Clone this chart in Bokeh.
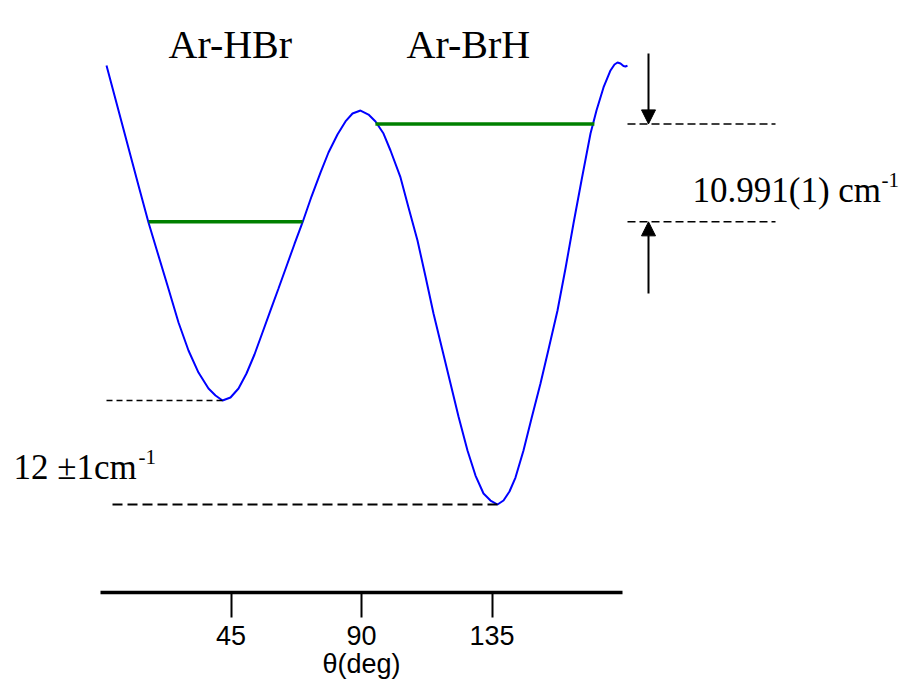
from bokeh.plotting import figure
from bokeh.models import Range1d, Label, Arrow, NormalHead, FixedTicker
from bokeh.embed import file_html
from bokeh.resources import INLINE

# ---- data: angle in degrees, energy in cm-1 ----
theta = [2.07, 4.83, 7.59, 10.34, 13.10, 16.55, 19.66, 23.10, 26.90, 30.34,
         33.79, 37.24, 39.66, 42.07,
         44.83, 47.59, 50.34, 53.10, 55.86, 58.62, 61.38, 64.48, 66.90, 69.66,
         72.76, 75.86, 78.62, 81.72, 84.48, 86.90, 89.66,
         92.41, 94.83, 97.59, 100.0, 103.45, 106.21, 109.31, 112.07, 114.83,
         117.93, 120.69, 123.45, 126.55, 129.31, 132.07, 134.48, 136.90,
         138.97, 141.03, 143.10, 145.86, 148.62, 151.72, 154.48, 157.59,
         160.34, 163.10, 165.86, 168.97, 171.03, 173.45, 175.86, 177.24,
         178.28, 179.31, 180.34, 181.03, 181.72]
energy = [50.63, 47.17, 43.71, 40.25, 36.79, 32.53, 29.07, 25.26, 20.99, 17.76,
          15.22, 13.38, 12.57, 11.99,
          12.34, 13.38, 15.11, 17.30, 19.84, 22.38, 24.91, 27.80, 30.05, 32.53,
          35.52, 38.29, 40.60, 42.68, 44.18, 45.10, 45.44,
          44.98, 44.18, 42.79, 40.83, 37.72, 34.26, 30.45, 26.30, 22.03,
          17.76, 13.96, 10.15, 6.23, 3.34, 1.27, 0.46, 0.00,
          0.46, 1.50, 3.11, 6.23, 9.92, 13.96, 17.88, 22.38,
          27.22, 32.41, 37.37, 42.79, 45.44, 48.10, 50.06, 50.75,
          50.98, 50.87, 50.58, 50.52, 50.63]

# energy levels (green) and their theta extents
level_E = [32.6, 43.9]
level_t0 = [16.6, 94.8]
level_t1 = [69.7, 170.3]

# well minima
min_HBr = 12.0
min_BrH = 0.0
min_HBr_theta = 42.1
min_BrH_theta = 136.9

tick_values = [45, 90, 135]
tick_labels = ["45", "90", "135"]
well_names = ["Ar-HBr", "Ar-BrH"]
split_label = "10.991(1) cm"
depth_label = "12 \u00b11cm"
axis_title = "\u03b8(deg)"

# ---- layout helpers (page pixel -> data) ----
PX_DEG = 2.9
X0 = 100.0
PX_E = 8.67
Y0 = 504.0
W, H = 905, 683
FRAME_BOTTOM = 592


def X(px):
    return (px - X0) / PX_DEG


def Y(py):
    return (Y0 - py) / PX_E


p = figure(width=W, height=H, output_backend="svg", toolbar_location=None,
           x_range=Range1d(X(0), X(W)),
           y_range=Range1d(Y(FRAME_BOTTOM), Y(0)),
           y_axis_location=None,
           min_border_left=0, min_border_right=0, min_border_top=0,
           min_border_bottom=H - FRAME_BOTTOM)
p.outline_line_color = None
p.grid.visible = False
p.background_fill_color = "white"
p.border_fill_color = "white"

ax = p.xaxis[0]
ax.ticker = FixedTicker(ticks=tick_values)
# the axis title sits centred under the 90 tick, as in the reference
overrides = {v: t for v, t in zip(tick_values, tick_labels)}
overrides[90] = tick_labels[1] + "\n" + axis_title
ax.major_label_overrides = overrides
ax.bounds = (0, 180)
ax.axis_line_width = 3.5
ax.axis_line_color = "black"
ax.major_tick_out = 25
ax.major_tick_in = 0
ax.major_tick_line_width = 2
ax.minor_tick_out = 0
ax.minor_tick_in = 0
ax.major_label_standoff = 3
ax.major_label_text_font = "Liberation Sans"
ax.major_label_text_font_size = "27px"
ax.major_label_text_line_height = 0.95
ax.major_label_text_color = "black"

# curve
p.line(theta, energy, line_color="#0000ff", line_width=2)

# energy levels
for e, t0, t1 in zip(level_E, level_t0, level_t1):
    p.line([t0, t1], [e, e], line_color="#008000", line_width=3.5)

# dashed reference lines
p.line([X(106), min_HBr_theta], [min_HBr, min_HBr], line_color="black",
       line_width=1.5, line_dash="6 4")
p.line([X(112), min_BrH_theta], [min_BrH, min_BrH], line_color="black",
       line_width=2, line_dash="10 5")
for e in level_E:
    p.line([X(627), X(775)], [e, e], line_color="black", line_width=1.5,
           line_dash="8 4")

# arrows
p.add_layout(Arrow(end=NormalHead(size=14, fill_color="black", line_color="black"),
                   x_start=X(648), y_start=Y(53), x_end=X(648), y_end=level_E[1],
                   line_width=2, line_color="black"))
p.add_layout(Arrow(end=NormalHead(size=14, fill_color="black", line_color="black"),
                   x_start=X(648), y_start=Y(293), x_end=X(648), y_end=level_E[0],
                   line_width=2, line_color="black"))

serif = "Liberation Serif"


def lab(x, y, text, size, font=serif, align="left"):
    p.add_layout(Label(x=x, y=y, text=text, text_font=font,
                       text_font_size=size, text_align=align,
                       text_baseline="alphabetic", text_color="black"))


lab(X(168), Y(44), well_names[0], "40px")
lab(X(406), Y(44), well_names[1], "40px")
lab(X(692), Y(190), split_label, "35px")
lab(X(881), Y(179), "-1", "21px")
lab(X(13), Y(467), depth_label, "35px")
lab(X(138), Y(456), "-1", "21px")

open("out.html", "w").write(file_html(p, INLINE))
